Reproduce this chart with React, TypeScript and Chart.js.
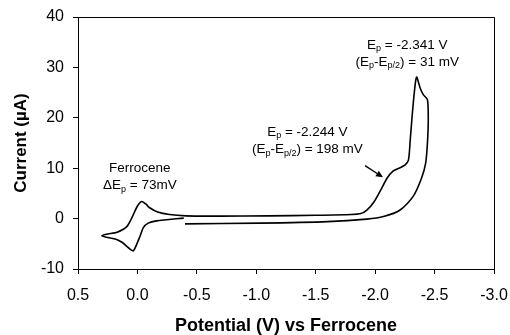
import React, { useEffect, useRef } from "react";
import { Chart, registerables } from "chart.js";

Chart.register(...registerables);

// Cyclic voltammogram path (V vs Fc, µA), in scan order
const potentials = [
  -0.39, -0.16, -0.09, -0.05, -0.02, 0.01, 0.035, 0.06, 0.09, 0.13, 0.18, 0.26, 0.30,
  0.26, 0.17, 0.09, 0.04, 0.0, -0.035, -0.07, -0.10, -0.17, -0.27, -0.41,
  -0.7, -1.1, -1.5, -1.8, -1.88, -1.93, -1.99, -2.05, -2.10, -2.15, -2.20, -2.25, -2.28,
  -2.295, -2.31, -2.325, -2.34, -2.35, -2.365, -2.38, -2.405, -2.44,
  -2.447, -2.44, -2.425, -2.39, -2.32, -2.21, -2.07, -1.93, -1.6, -1.03, -0.40,
];
const currents = [
  0.1, -0.45, -0.9, -1.8, -3.6, -5.3, -6.4, -6.1, -5.5, -4.7, -4.1, -3.7, -3.4,
  -3.1, -2.7, -1.6, 0.5, 2.5, 3.4, 2.9, 2.2, 1.3, 0.8, 0.55,
  0.5, 0.55, 0.65, 0.8, 1.0, 1.7, 3.3, 5.8, 8.0, 9.4, 10.0, 10.6, 11.6,
  15.5, 20, 24, 27.2, 28.1, 27.0, 25.8, 24.6, 23.6,
  19.6, 15, 11, 8.0, 4.4, 1.7, 0.4, -0.1, -0.6, -0.9, -1.05,
];

const xTicks = [0.5, 0.0, -0.5, -1.0, -1.5, -2.0, -2.5, -3.0];
const yTicks = [-10, 0, 10, 20, 30, 40];

type Seg = [string, boolean];
const labelX = [-0.02, -0.02, -1.43, -1.43, -2.27, -2.27];
const labelY = [10.2, 6.8, 17.4, 14.0, 34.7, 31.3];
const labelText: Seg[][] = [
  [["Ferrocene", false]],
  [["ΔE", false], ["p", true], [" = 73mV", false]],
  [["E", false], ["p", true], [" = -2.244 V", false]],
  [["(E", false], ["p", true], ["-E", false], ["p/2", true], [") = 198 mV", false]],
  [["E", false], ["p", true], [" = -2.341 V", false]],
  [["(E", false], ["p", true], ["-E", false], ["p/2", true], [") = 31 mV", false]],
];
const arrowFrom = { x: -1.915, y: 10.5 };
const arrowTo = { x: -2.066, y: 8.2 };

const FONT = 'Arial, "Liberation Sans", sans-serif';

function drawRich(ctx: CanvasRenderingContext2D, segs: Seg[], cx: number, cy: number, size: number) {
  const main = `${size}px ${FONT}`;
  const sub = `${Math.round(size * 0.68)}px ${FONT}`;
  let w = 0;
  for (const [t, s] of segs) {
    ctx.font = s ? sub : main;
    w += ctx.measureText(t).width;
  }
  let x = cx - w / 2;
  const base = cy + size * 0.36;
  ctx.textBaseline = "alphabetic";
  ctx.textAlign = "left";
  for (const [t, s] of segs) {
    ctx.font = s ? sub : main;
    ctx.fillText(t, x, s ? base + size * 0.2 : base);
    x += ctx.measureText(t).width;
  }
}

const decor = {
  id: "decor",
  afterDraw(chart: any) {
    const { ctx, chartArea: a, scales } = chart;
    const xs = scales.x, ys = scales.y;
    ctx.save();
    ctx.strokeStyle = "#000";
    ctx.lineWidth = 1;
    ctx.beginPath();
    ctx.moveTo(a.left, a.top + 0.5);
    ctx.lineTo(a.right + 0.5, a.top + 0.5);
    ctx.lineTo(a.right + 0.5, a.bottom);
    ctx.stroke();
    ctx.fillStyle = "#000";
    for (let i = 0; i < labelText.length; i++) {
      drawRich(ctx, labelText[i], xs.getPixelForValue(labelX[i]), ys.getPixelForValue(labelY[i]), 13.5);
    }
    const x1 = xs.getPixelForValue(arrowFrom.x), y1 = ys.getPixelForValue(arrowFrom.y);
    const x2 = xs.getPixelForValue(arrowTo.x), y2 = ys.getPixelForValue(arrowTo.y);
    const ang = Math.atan2(y2 - y1, x2 - x1);
    const hl = 7, hw = 3.2;
    const bx = x2 - hl * Math.cos(ang), by = y2 - hl * Math.sin(ang);
    ctx.lineWidth = 1.4;
    ctx.beginPath();
    ctx.moveTo(x1, y1);
    ctx.lineTo(bx, by);
    ctx.stroke();
    ctx.beginPath();
    ctx.moveTo(x2, y2);
    ctx.lineTo(bx + hw * Math.sin(ang), by - hw * Math.cos(ang));
    ctx.lineTo(bx - hw * Math.sin(ang), by + hw * Math.cos(ang));
    ctx.closePath();
    ctx.fill();
    ctx.restore();
  },
};

export default function App() {
  const ref = useRef<HTMLCanvasElement | null>(null);
  useEffect(() => {
    document.body.style.margin = "0";
    const canvas = ref.current!;
    const data = potentials.map((v, i) => ({ x: v, y: currents[i] }));
    const chart = new Chart(canvas, {
      type: "scatter",
      data: {
        datasets: [
          {
            data,
            showLine: true,
            borderColor: "#000",
            borderWidth: 1.6,
            pointRadius: 0,
            tension: 0.25,
            fill: false,
          },
        ],
      },
      options: {
        animation: false,
        responsive: false,
        devicePixelRatio: 1,
        layout: { padding: { top: 17, right: 16, left: 0, bottom: 0 } },
        plugins: { legend: { display: false }, tooltip: { enabled: false } },
        scales: {
          x: {
            type: "linear",
            reverse: true,
            min: -3.0,
            max: 0.5,
            afterBuildTicks: (s: any) => {
              s.ticks = xTicks.map((v) => ({ value: v }));
            },
            afterFit: (s: any) => {
              s.height = 66;
              s.paddingLeft = 0;
              s.paddingRight = 0;
            },
            ticks: {
              color: "#000",
              font: { family: FONT, size: 16 },
              padding: 12,
              maxRotation: 0,
              callback: (v: any) => Number(v).toFixed(1),
            },
            grid: {
              drawOnChartArea: false,
              drawTicks: true,
              tickLength: 5,
              color: "#000",
            },
            border: { display: true, color: "#000", width: 1 },
            title: {
              display: true,
              text: "Potential (V) vs Ferrocene",
              color: "#000",
              font: { family: FONT, size: 18, weight: "bold", lineHeight: 1 },
              padding: { top: 0, bottom: 0 },
            },
          },
          y: {
            min: -10,
            max: 40,
            afterBuildTicks: (s: any) => {
              s.ticks = yTicks.map((v) => ({ value: v }));
            },
            afterFit: (s: any) => {
              s.width = 78;
              s.paddingTop = 0;
              s.paddingBottom = 0;
            },
            ticks: {
              color: "#000",
              font: { family: FONT, size: 16 },
              padding: 9,
              callback: (v: any) => String(v),
            },
            grid: {
              drawOnChartArea: false,
              drawTicks: true,
              tickLength: 5,
              color: "#000",
            },
            border: { display: true, color: "#000", width: 1 },
            title: {
              display: true,
              text: "Current (µA)",
              color: "#000",
              font: { family: FONT, size: 17, weight: "bold", lineHeight: 1 },
              padding: { top: 13, bottom: 0 },
            },
          },
        },
      },
      plugins: [decor],
    });
    return () => chart.destroy();
  }, []);
  return <canvas ref={ref} width={510} height={335} style={{ display: "block" }} />;
}
